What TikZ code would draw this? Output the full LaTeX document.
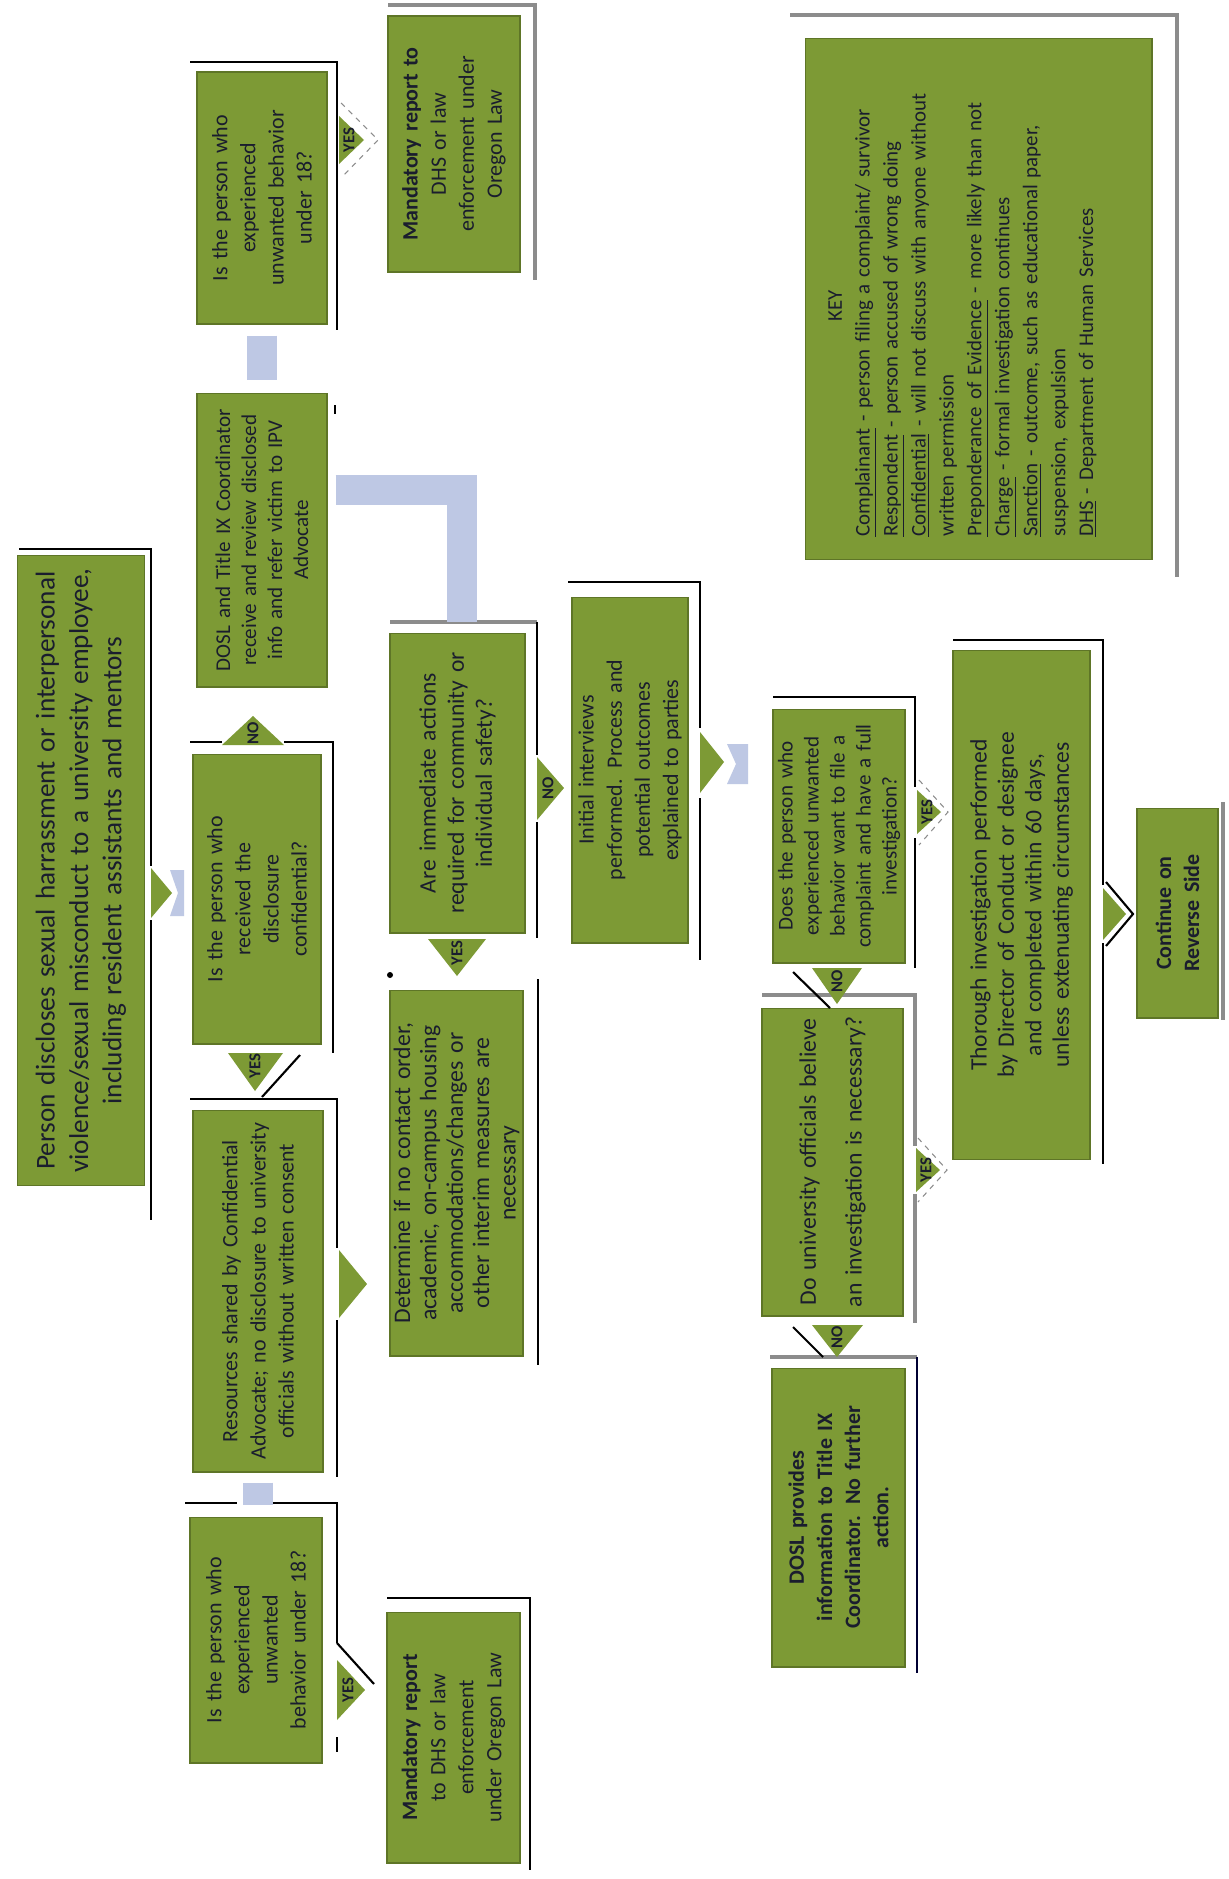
\documentclass[tikz,border=0pt]{standalone}
\usepackage{fontspec}
\setmainfont{Carlito}
\usetikzlibrary{calc}
\definecolor{gfill}{HTML}{7D9A35}
\definecolor{gedge}{HTML}{5E7527}
\definecolor{lblue}{HTML}{BEC8E4}
\definecolor{txt}{HTML}{1A1D2E}
\definecolor{fgray}{HTML}{8C8C8C}
\newcommand\startfont{\fontsize{15.5}{19}\selectfont}
\newcommand\mfont{\fontsize{12.5}{16}\selectfont}
\newcommand\sfont{\fontsize{12}{14.8}\selectfont}
\newcommand\afont{\fontsize{13.4}{16}\selectfont}
\newcommand\rfont{\fontsize{12.5}{16}\selectfont}
\newcommand\dfont{\fontsize{13.5}{15}\selectfont}
\newcommand\ufont{\fontsize{13.5}{26}\selectfont}
\newcommand\tfont{\fontsize{13.4}{15.6}\selectfont}
\newcommand\keyfont{\fontsize{11.9}{15.9}\selectfont}
\newcommand\lblfont{\fontsize{9.5}{9.5}\selectfont\bfseries}
\tikzset{
  gbox/.style={fill=gfill, draw=gedge, line width=0.6pt, rotate=90, inner sep=0pt, align=center, text=txt},
  frm/.style={draw=black, line width=1.4pt},
  frmg/.style={draw=fgray, line width=1.8pt},
  tri/.style={fill=gfill},
  lbl/.style={rotate=90, font=\lblfont, text=txt, inner sep=0pt},
  lbbar/.style={draw=lblue, line width=0.6cm},
  chev/.style={fill=lblue},
  outl/.style={draw=black, line width=1.2pt},
  dsh/.style={draw=fgray, line width=0.6pt, dashed}
}
\begin{document}
\begin{tikzpicture}[x=0.02cm,y=-0.02cm]
\fill[white] (0,0) rectangle (1229,1879);
\useasboundingbox (0,0) rectangle (1229,1879);

% ---------- frames ----------
\draw[frm] (19,549) -- (151,549) -- (151,866);
\draw[frm] (151,920) -- (151,1220);
\draw[frm] (190,62) -- (337,62) -- (337,330);
\draw[frmg] (388,5) -- (535,5) -- (535,280);
\draw[frm] (335,405) -- (335,414);
\draw[frm] (190,742) -- (222,742);
\draw[frm] (284,742) -- (333,742) -- (333,1053);
\draw[frm] (190,1099) -- (337,1099) -- (337,1248);
\draw[frm] (337,1320) -- (337,1477);
\draw[frm] (185,1503) -- (237,1503);
\draw[frm] (267,1503) -- (337,1503) -- (337,1643);
\draw[frm] (337,1737) -- (337,1752);
\draw[frm] (387,1598) -- (530,1598) -- (530,1870);
\draw[frmg] (390,622) -- (537,622);
\draw[frm] (537,622) -- (537,755);
\draw[frm] (537,822) -- (537,938);
\draw[frm] (538,979) -- (538,1365);
\fill (390,975) circle (3);
\draw[frm] (568,582) -- (700,582) -- (700,728);
\draw[frm] (700,798) -- (700,960);
\draw[frm] (773,697) -- (915,697) -- (915,787);
\draw[frm] (915,838) -- (915,968);
\draw[frmg] (762,995) -- (915,995) -- (915,1146);
\draw[frmg] (915,1194) -- (915,1323);
\draw[frmg] (770,1357) -- (917,1357);
\draw[frm, draw=black!80!blue] (917,1357) -- (917,1673);
\draw[frm] (953,640) -- (1103,640) -- (1103,885);
\draw[frm] (1103,943) -- (1103,1164);
\draw[frmg] (1223,802) -- (1223,1020);
\draw[frmg] (790,15) -- (1177,15) -- (1177,577);

% ---------- boxes ----------
\node[gbox, font=\startfont, minimum width=12.62cm, minimum height=2.54cm, text width=12.5cm] (start) at (81,870.5)
  {Person discloses sexual harrassment or interpersonal\\violence/sexual misconduct to a university employee,\\including resident assistants and mentors};
\node[gbox, font=\mfont, minimum width=5.04cm, minimum height=2.6cm, text width=4.8cm] (q18t) at (262,198)
  {Is the person who\\experienced\\unwanted behavior\\under 18?};
\node[gbox, font=\mfont, minimum width=5.12cm, minimum height=2.64cm, text width=4.9cm] (mandt) at (454,144)
  {\textbf{Mandatory report to}\\DHS or law\\enforcement under\\Oregon Law};
\node[gbox, font=\sfont, minimum width=5.88cm, minimum height=2.6cm, text width=5.8cm] (dosl) at (262,540)
  {DOSL and Title IX Coordinator\\receive and review disclosed\\info and refer victim to IPV\\Advocate};
\node[gbox, font=\mfont, minimum width=5.8cm, minimum height=2.56cm, text width=5.5cm] (conf) at (257,899)
  {Is the person who\\received the\\disclosure\\confidential?};
\node[gbox, font=\rfont, minimum width=7.24cm, minimum height=2.6cm, text width=7.2cm] (res) at (258,1291)
  {Resources shared by Confidential\\Advocate; no disclosure to university\\officials without written consent};
\node[gbox, font=\mfont, minimum width=4.92cm, minimum height=2.64cm, text width=4.7cm] (q18b) at (256,1640)
  {Is the person who\\experienced\\unwanted\\behavior under 18?};
\node[gbox, font=\mfont, minimum width=5.02cm, minimum height=2.66cm, text width=4.8cm] (mandb) at (453.5,1737.5)
  {\textbf{Mandatory report}\\to DHS or law\\enforcement\\under Oregon Law};
\node[gbox, font=\afont, minimum width=6.0cm, minimum height=2.7cm, text width=5.9cm] (are) at (457.5,783)
  {Are immediate actions\\required for community or\\individual safety?};
\node[gbox, font=\dfont, minimum width=7.32cm, minimum height=2.66cm, text width=7.2cm] (det) at (456.5,1173)
  {Determine if no contact order,\\academic, on-campus housing\\accommodations/changes or\\other interim measures are\\necessary};
\node[gbox, font=\mfont, minimum width=6.92cm, minimum height=2.32cm, text width=6.7cm] (init) at (630,770)
  {Initial interviews\\performed. Process and\\potential outcomes\\explained to parties};
\node[gbox, font=\sfont, minimum width=5.08cm, minimum height=2.64cm, text width=4.95cm] (does) at (839,836)
  {Does the person who\\experienced unwanted\\behavior want to file a\\complaint and have a full\\investigation?};
\node[gbox, font=\ufont, minimum width=6.16cm, minimum height=2.82cm, text width=6.1cm] (douniv) at (832.5,1162)
  {Do university officials believe\\an investigation is necessary?};
\node[gbox, font=\mfont\bfseries, minimum width=5.98cm, minimum height=2.66cm, text width=5.8cm] (doslp) at (838.5,1517.5)
  {DOSL provides\\information to Title IX\\Coordinator. No further\\action.};
\node[gbox, font=\tfont, minimum width=10.2cm, minimum height=2.74cm, text width=10cm] (thor) at (1021.5,905)
  {Thorough investigation performed\\by Director of Conduct or designee\\and completed within 60 days,\\unless extenuating circumstances};
\node[gbox, font=\mfont, minimum width=4.2cm, minimum height=1.62cm, text width=4cm] (cont) at (1177.5,913)
  {\textbf{Continue on}\\\textbf{Reverse Side}};
\node[gbox, minimum width=10.44cm, minimum height=6.94cm] (key) at (978.5,299) {};
\node[rotate=90, anchor=north west, text width=9.25cm, align=left, inner sep=0pt, font=\keyfont, text=txt] (keytxt) at (828,537)
  {\makebox[\linewidth]{KEY}\\
   \underline{Complainant} - person filing a complaint/ survivor\\
   \underline{Respondent} - person accused of wrong doing\\
   \underline{Confidential} - will not discuss with anyone without\\
   written permission\\
   \underline{Preponderance of Evidence} - more likely than not\\
   \underline{Charge} - formal investigation continues\\
   \underline{Sanction} - outcome, such as educational paper,\\
   suspension, expulsion\\
   \underline{DHS} - Department of Human Services};

% ---------- light blue connectors ----------
\draw[lbbar, shorten <=0.22cm, shorten >=0.26cm] (q18t.west) -- (dosl.east);
\draw[lbbar, shorten <=0.2cm, shorten >=0.24cm] (res.west) -- (res.west |- q18b.east);
\draw[lbbar, line join=miter, shorten <=0.16cm, shorten >=0.22cm] (dosl.south |- 0,490) -- (462,490) -- (462,0 |- are.east);

% ---------- arrows ----------
% start -> conf
\fill[tri] (151,868) -- (172,893) -- (151,918) -- cycle;
\fill[chev] (170,870) -- (184,870) -- (184,916) -- (170,916) -- (178,893) -- cycle;
% q18t -> mandt
\draw[dsh] (341,103) -- (378,140) -- (341,178);
\fill[tri] (339,116) -- (364,140) -- (339,164) -- cycle;
\node[lbl] (y1) at (349,140) {YES};
% conf -> dosl
\fill[tri] (222,745) -- (253,716) -- (284,745) -- cycle;
\node[lbl] (n1) at (253,733) {NO};
% conf -> res
\fill[tri] (228,1053) -- (255,1091) -- (283,1053) -- cycle;
\node[lbl] (y2) at (255,1066) {YES};
\draw[outl] (262,1097) -- (300,1055);
% res -> det
\fill[tri] (339,1250) -- (367,1284) -- (339,1318) -- cycle;
% q18b -> mandb
\fill[tri] (337,1660) -- (365,1690) -- (337,1720) -- cycle;
\node[lbl] (y3) at (348,1690) {YES};
\draw[outl] (337,1643) -- (374,1684);
% are -> det
\fill[tri] (428,939) -- (457,976) -- (486,939) -- cycle;
\node[lbl] (y4) at (457,953) {YES};
% are -> init
\fill[tri] (537,757) -- (564,788) -- (537,820) -- cycle;
\node[lbl] (n2) at (548,788) {NO};
% init -> does
\fill[tri] (700,732) -- (724,762) -- (700,793) -- cycle;
\fill[chev] (727,744) -- (748,744) -- (748,784) -- (727,784) -- (736,764) -- cycle;
% does -> thor
\draw[dsh] (919,780) -- (948,812) -- (919,845);
\fill[tri] (917,790) -- (941,812) -- (917,834) -- cycle;
\node[lbl] (y5) at (927,812) {YES};
% does -> douniv
\fill[tri] (812,968) -- (837,1004) -- (862,968) -- cycle;
\node[lbl] (n3) at (837,981) {NO};
\draw[outl] (793,972) -- (830,1008);
% douniv -> thor
\draw[dsh] (918,1138) -- (947,1170) -- (918,1202);
\fill[tri] (916,1148) -- (940,1170) -- (916,1192) -- cycle;
\node[lbl] (y6) at (926,1170) {YES};
% douniv -> doslp
\fill[tri] (812,1325) -- (837,1357) -- (863,1325) -- cycle;
\node[lbl] (n4) at (837,1337) {NO};
\draw[outl] (793,1327) -- (823,1357);
% thor -> cont
\fill[tri] (1103,888) -- (1126,914) -- (1103,940) -- cycle;
\draw[outl] (1106,882) -- (1133,914) -- (1106,946);
\end{tikzpicture}
\end{document}
